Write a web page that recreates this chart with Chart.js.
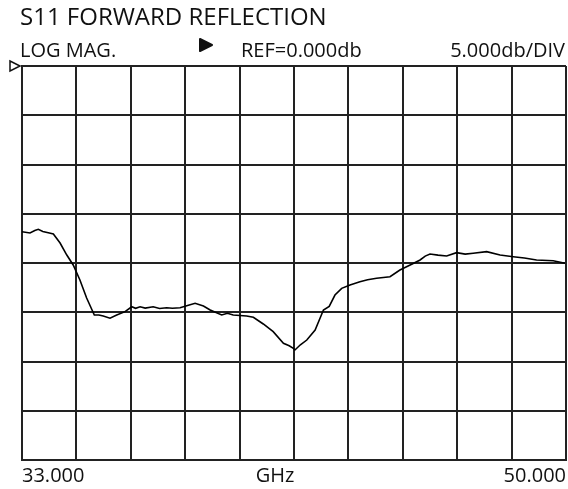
<!DOCTYPE html>
<html>
<head>
<meta charset="utf-8">
<title>S11 Forward Reflection</title>
<script src="https://cdn.jsdelivr.net/npm/chart.js@4"></script>
<style>
  html, body { margin: 0; padding: 0; background: #fff; }
  #wrap { width: 568px; height: 489px; }
</style>
</head>
<body>
<div id="wrap"><canvas id="s11"></canvas></div>
<script>
// frequency axis (GHz) and trace values (dB)
const freqGHz = [
  33.00, 33.25, 33.40, 33.51, 33.65, 33.82, 33.98, 34.19, 34.40, 34.60, 34.81, 35.02,
  35.26, 35.40, 35.54, 35.75, 35.96, 36.22, 36.43, 36.55, 36.69, 36.85, 37.10, 37.30,
  37.52, 37.70, 37.94, 38.20, 38.41, 38.67, 38.88, 39.24, 39.42, 39.60, 40.02, 40.23,
  40.54, 40.85, 41.17, 41.35, 41.48, 41.53, 41.70, 41.90, 42.16, 42.42, 42.60, 42.78,
  42.99, 43.25, 43.56, 43.80, 44.08, 44.50, 44.81, 45.13, 45.44, 45.60, 45.75, 46.00,
  46.27, 46.58, 46.85, 47.10, 47.52, 47.94, 48.35, 48.70, 49.08, 49.60, 49.97
];
const s11dB = [
  -16.82, -16.95, -16.70, -16.58, -16.80, -16.92, -17.06, -17.97, -19.19, -20.20, -21.73, -23.55,
  -25.28, -25.28, -25.38, -25.61, -25.28, -24.94, -24.44, -24.60, -24.44, -24.58, -24.44, -24.62,
  -24.54, -24.60, -24.54, -24.30, -24.09, -24.36, -24.77, -25.28, -25.10, -25.28, -25.38, -25.51,
  -26.19, -26.97, -28.15, -28.40, -28.66, -28.83, -28.30, -27.82, -26.80, -24.77, -24.40, -23.25,
  -22.57, -22.23, -21.90, -21.70, -21.55, -21.39, -20.71, -20.20, -19.69, -19.30, -19.09, -19.20,
  -19.29, -18.95, -19.10, -19.01, -18.85, -19.19, -19.36, -19.50, -19.69, -19.77, -20.03
];
const xTickLabels = ['33.000', '50.000'];
const headerLabels = ['LOG MAG.', 'REF=0.000db', '5.000db/DIV'];
const titleText = 'S11 FORWARD REFLECTION';
const unitText = 'GHz';

const FONT = '"Open Sans", "DejaVu Sans", sans-serif';

// draws the analyzer header texts, unit label and the two markers
const annotations = {
  id: 'annotations',
  afterDraw(chart) {
    const ctx = chart.ctx;
    const area = chart.chartArea;
    ctx.save();
    ctx.fillStyle = '#111';
    ctx.textBaseline = 'alphabetic';

    ctx.font = '24px ' + FONT;
    ctx.textAlign = 'left';
    ctx.fillText(titleText, 20, 25);

    ctx.font = '20px ' + FONT;
    ctx.fillText(headerLabels[0], 20, 57);
    ctx.fillText(headerLabels[1], 241, 57);
    ctx.textAlign = 'right';
    ctx.fillText(headerLabels[2], 565, 57);

    ctx.textAlign = 'center';
    ctx.fillText(unitText, 275, 482);

    // active channel arrow
    ctx.beginPath();
    ctx.moveTo(200, 39);
    ctx.lineTo(212, 45);
    ctx.lineTo(200, 51);
    ctx.closePath();
    ctx.lineJoin = 'round';
    ctx.lineWidth = 2;
    ctx.strokeStyle = '#111';
    ctx.fill();
    ctx.stroke();

    // reference level marker
    const yRef = chart.scales.y.getPixelForValue(0);
    ctx.beginPath();
    ctx.moveTo(area.left - 12, yRef - 5);
    ctx.lineTo(area.left - 2, yRef);
    ctx.lineTo(area.left - 12, yRef + 5);
    ctx.closePath();
    ctx.lineWidth = 1.5;
    ctx.lineJoin = 'miter';
    ctx.stroke();
    ctx.restore();
  }
};

const gridStyle = { color: '#222', lineWidth: 2, drawTicks: false };

new Chart(document.getElementById('s11'), {
  type: 'line',
  data: {
    datasets: [{
      data: freqGHz.map((f, i) => ({ x: f, y: s11dB[i] })),
      borderColor: '#000',
      borderWidth: 1.6,
      pointRadius: 0,
      tension: 0,
      fill: false
    }]
  },
  options: {
    responsive: true,
    maintainAspectRatio: false,
    animation: false,
    layout: { padding: { left: 22, right: 2, top: 66, bottom: 0 } },
    plugins: { legend: { display: false }, tooltip: { enabled: false } },
    scales: {
      x: {
        type: 'linear',
        min: 33,
        max: 50,
        grid: gridStyle,
        border: { color: '#222', width: 2 },
        afterFit: (scale) => {
          scale.height = 29;
          scale.paddingLeft = 0;
          scale.paddingRight = 0;
        },
        ticks: {
          stepSize: 1.7,
          autoSkip: false,
          maxRotation: 0,
          align: 'inner',
          padding: 6,
          color: '#111',
          font: { family: FONT, size: 20, lineHeight: 1 },
          callback: (v, i, ticks) => i === 0 ? xTickLabels[0] : (i === ticks.length - 1 ? xTickLabels[1] : '')
        }
      },
      y: {
        min: -40,
        max: 0,
        grid: gridStyle,
        border: { color: '#222', width: 2 },
        ticks: { stepSize: 5, display: false }
      }
    }
  },
  plugins: [annotations]
});
</script>
</body>
</html>
